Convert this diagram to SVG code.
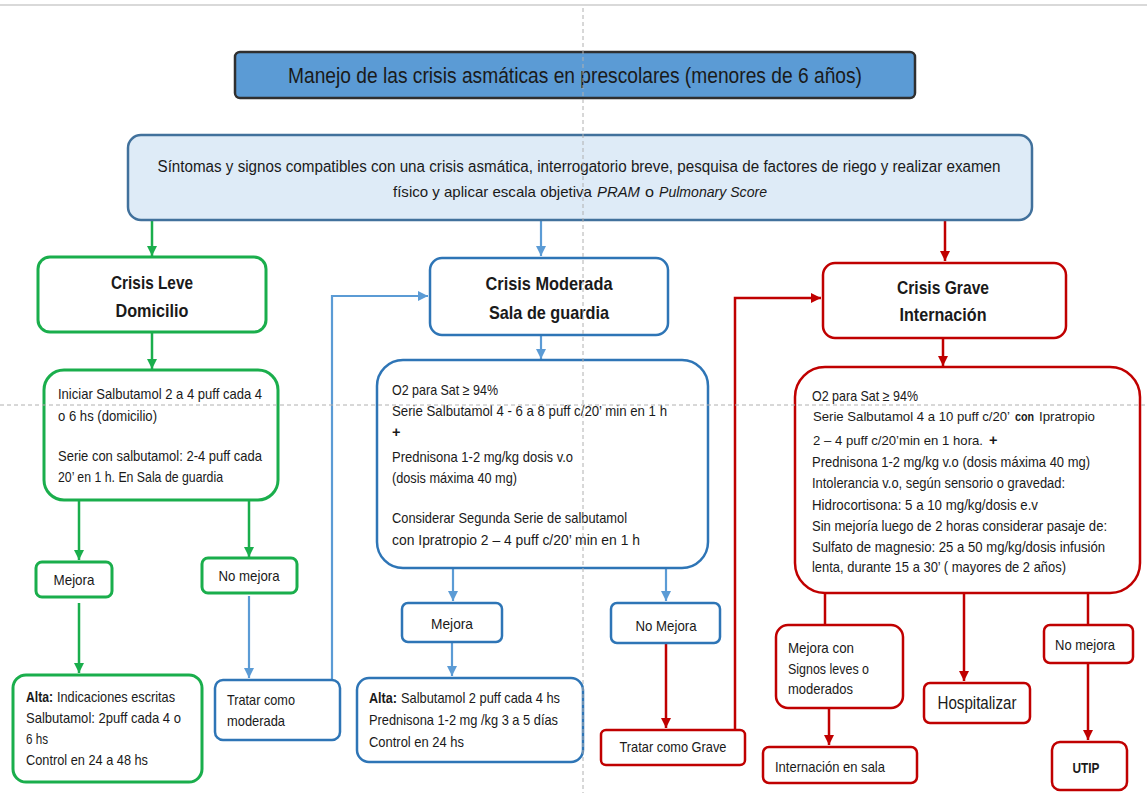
<svg xmlns="http://www.w3.org/2000/svg" width="1147" height="793" viewBox="0 0 1147 793">
<style>
text{font-family:"Liberation Sans",Arial,sans-serif;fill:#1a1a1a;}
.t{font-size:14.5px;}
.h{font-size:18.5px;font-weight:bold;}
.c{text-anchor:middle;}
.bo{font-weight:bold;}
.it{font-style:italic;}
.g{fill:#fff;stroke:#1aae4c;stroke-width:3;}
.b{fill:#fff;stroke:#2e75b6;stroke-width:2.5;}
.r{fill:#fff;stroke:#c00000;stroke-width:2.5;}
.lg{fill:none;stroke:#1aae4c;stroke-width:2.5;}
.lb{fill:none;stroke:#5b9bd5;stroke-width:2.2;}
.lr{fill:none;stroke:#c00000;stroke-width:2.5;}
.guide{fill:none;stroke:#b0b0b0;stroke-width:1;stroke-dasharray:4 3;}
</style>
<defs>
<marker id="ag" viewBox="0 0 10 10" refX="10" refY="5" markerWidth="10" markerHeight="10" markerUnits="userSpaceOnUse" orient="auto"><path d="M0,0 L10,5 L0,10 z" fill="#1aae4c"/></marker>
<marker id="ab" viewBox="0 0 10 10" refX="10" refY="5" markerWidth="10" markerHeight="10" markerUnits="userSpaceOnUse" orient="auto"><path d="M0,0 L10,5 L0,10 z" fill="#5b9bd5"/></marker>
<marker id="ar" viewBox="0 0 10 10" refX="10" refY="5" markerWidth="10" markerHeight="10" markerUnits="userSpaceOnUse" orient="auto"><path d="M0,0 L10,5 L0,10 z" fill="#c00000"/></marker>
</defs>
<rect width="1147" height="793" fill="#fff"/>

<g id="connectors">
<path class="lg" d="M152,221 V256" marker-end="url(#ag)"/>
<path class="lb" d="M541,221 V256" marker-end="url(#ab)"/>
<path class="lr" d="M945,221 V261" marker-end="url(#ar)"/>
<path class="lg" d="M152,333 V369" marker-end="url(#ag)"/>
<path class="lb" d="M541,336 V359" marker-end="url(#ab)"/>
<path class="lr" d="M943,339 V366" marker-end="url(#ar)"/>
<path class="lg" d="M79,501 V560" marker-end="url(#ag)"/>
<path class="lg" d="M249,501 V557" marker-end="url(#ag)"/>
<path class="lg" d="M79,603 V673" marker-end="url(#ag)"/>
<path class="lb" d="M249,596 V678" marker-end="url(#ab)"/>
<path class="lb" d="M332,680 V296 H428" marker-end="url(#ab)"/>
<path class="lb" d="M453,569 V601" marker-end="url(#ab)"/>
<path class="lb" d="M666,569 V601" marker-end="url(#ab)"/>
<path class="lb" d="M452,643 V676" marker-end="url(#ab)"/>
<path class="lr" d="M666,644 V728" marker-end="url(#ar)"/>
<path class="lr" d="M735,730 V298 H821" marker-end="url(#ar)"/>
<path class="lr" d="M825,594 V625"/>
<path class="lr" d="M829,709 V745" marker-end="url(#ar)"/>
<path class="lr" d="M964,594 V681" marker-end="url(#ar)"/>
<path class="lr" d="M1088,594 V625"/>
<path class="lr" d="M1088,664 V740" marker-end="url(#ar)"/>
</g>

<g id="title">
<rect x="235" y="52" width="680" height="46" rx="5" fill="#5b9bd5" stroke="#2f2f2f" stroke-width="2.5"/>
<text x="575" y="83" class="c" style="font-size:22px" textLength="574" lengthAdjust="spacingAndGlyphs">Manejo de las crisis asmáticas en prescolares (menores de 6 años)</text>
</g>

<g id="sintomas">
<rect x="128" y="135" width="904" height="85" rx="13" fill="#deebf7" stroke="#41719c" stroke-width="2.5"/>
<text x="579" y="172" class="c" style="font-size:16px" textLength="843" lengthAdjust="spacingAndGlyphs">Síntomas y signos compatibles con una crisis asmática, interrogatorio breve, pesquisa de factores de riego y realizar examen</text>
<text x="393" y="197" style="font-size:15px" textLength="199" lengthAdjust="spacingAndGlyphs">físico y aplicar escala objetiva</text>
<text x="597" y="197" class="it" style="font-size:15px" textLength="43" lengthAdjust="spacingAndGlyphs">PRAM</text>
<text x="645" y="197" style="font-size:15px" textLength="9" lengthAdjust="spacingAndGlyphs">o</text>
<text x="659" y="197" class="it" style="font-size:14px" textLength="108" lengthAdjust="spacingAndGlyphs">Pulmonary Score</text>
</g>

<g id="crisis-leve">
<rect class="g" x="38" y="257" width="228" height="75" rx="12"/>
<text x="152" y="289" class="h c" textLength="82" lengthAdjust="spacingAndGlyphs">Crisis Leve</text>
<text x="152" y="317" class="h c" textLength="73" lengthAdjust="spacingAndGlyphs">Domicilio</text>
</g>

<g id="leve-tratamiento">
<rect class="g" x="44" y="370" width="234" height="130" rx="20"/>
<text x="58" y="399" class="t" textLength="204" lengthAdjust="spacingAndGlyphs">Iniciar Salbutamol 2 a 4 puff cada 4</text>
<text x="58" y="421" class="t" textLength="99" lengthAdjust="spacingAndGlyphs">o 6 hs (domicilio)</text>
<text x="58" y="461" class="t" textLength="204" lengthAdjust="spacingAndGlyphs">Serie con salbutamol: 2-4 puff cada</text>
<text x="58" y="482" class="t" textLength="165" lengthAdjust="spacingAndGlyphs">20’ en 1 h. En Sala de guardia</text>
</g>

<g id="leve-mejora">
<rect class="g" x="36" y="562" width="76" height="35" rx="6"/>
<text x="74" y="585" class="t c" textLength="41" lengthAdjust="spacingAndGlyphs">Mejora</text>
</g>

<g id="leve-no-mejora">
<rect class="g" x="202" y="558" width="95" height="35" rx="6"/>
<text x="249" y="581" class="t c" textLength="61" lengthAdjust="spacingAndGlyphs">No mejora</text>
</g>

<g id="leve-alta">
<rect class="g" x="13" y="675" width="189" height="107" rx="13"/>
<text x="26" y="702" class="t bo" textLength="27" lengthAdjust="spacingAndGlyphs">Alta:</text>
<text x="57" y="702" class="t" textLength="118" lengthAdjust="spacingAndGlyphs">Indicaciones escritas</text>
<text x="26" y="723" class="t" textLength="155" lengthAdjust="spacingAndGlyphs">Salbutamol: 2puff cada 4 o</text>
<text x="26" y="744" class="t" textLength="22" lengthAdjust="spacingAndGlyphs">6 hs</text>
<text x="26" y="765" class="t" textLength="122" lengthAdjust="spacingAndGlyphs">Control en 24 a 48 hs</text>
</g>

<g id="tratar-moderada">
<rect class="b" x="215" y="680" width="125" height="60" rx="8"/>
<text x="227" y="705" class="t" textLength="68" lengthAdjust="spacingAndGlyphs">Tratar como</text>
<text x="227" y="726" class="t" textLength="58" lengthAdjust="spacingAndGlyphs">moderada</text>
</g>

<g id="crisis-moderada">
<rect class="b" x="430" y="258" width="238" height="77" rx="12"/>
<text x="549" y="290" class="h c" textLength="127" lengthAdjust="spacingAndGlyphs">Crisis Moderada</text>
<text x="549" y="319" class="h c" textLength="120" lengthAdjust="spacingAndGlyphs">Sala de guardia</text>
</g>

<g id="moderada-tratamiento">
<rect class="b" x="377" y="360" width="331" height="208" rx="26"/>
<text x="392" y="395" class="t" textLength="106" lengthAdjust="spacingAndGlyphs">O2 para Sat ≥ 94%</text>
<text x="392" y="416" class="t" textLength="275" lengthAdjust="spacingAndGlyphs">Serie Salbutamol 4 - 6 a 8 puff c/20’  min en 1 h</text>
<text x="392" y="437" class="t bo">+</text>
<text x="392" y="462" class="t" textLength="181" lengthAdjust="spacingAndGlyphs">Prednisona 1-2 mg/kg dosis v.o</text>
<text x="392" y="483" class="t" textLength="125" lengthAdjust="spacingAndGlyphs">(dosis máxima 40 mg)</text>
<text x="392" y="523" class="t" textLength="235" lengthAdjust="spacingAndGlyphs">Considerar Segunda Serie de salbutamol</text>
<text x="392" y="545" class="t" textLength="248" lengthAdjust="spacingAndGlyphs">con Ipratropio 2 – 4 puff c/20’ min en 1 h</text>
</g>

<g id="moderada-mejora">
<rect class="b" x="402" y="603" width="100" height="39" rx="6"/>
<text x="452" y="629" class="t c" textLength="42" lengthAdjust="spacingAndGlyphs">Mejora</text>
</g>

<g id="moderada-no-mejora">
<rect class="b" x="611" y="603" width="109" height="40" rx="6"/>
<text x="666" y="631" class="t c" textLength="61" lengthAdjust="spacingAndGlyphs">No Mejora</text>
</g>

<g id="moderada-alta">
<rect class="b" x="357" y="678" width="226" height="84" rx="12"/>
<text x="369" y="703" class="t bo" textLength="28" lengthAdjust="spacingAndGlyphs">Alta:</text>
<text x="401" y="703" class="t" textLength="159" lengthAdjust="spacingAndGlyphs">Salbutamol 2 puff cada 4 hs</text>
<text x="369" y="725" class="t" textLength="189" lengthAdjust="spacingAndGlyphs">Prednisona 1-2 mg /kg 3 a 5 días</text>
<text x="369" y="747" class="t" textLength="95" lengthAdjust="spacingAndGlyphs">Control en 24 hs</text>
</g>

<g id="tratar-grave">
<rect class="r" x="601" y="730" width="144" height="35" rx="5"/>
<text x="673" y="752" class="t c" textLength="107" lengthAdjust="spacingAndGlyphs">Tratar como Grave</text>
</g>

<g id="crisis-grave">
<rect class="r" x="823" y="263" width="243" height="75" rx="12"/>
<text x="943" y="294" class="h c" textLength="92" lengthAdjust="spacingAndGlyphs">Crisis Grave</text>
<text x="943" y="321" class="h c" textLength="87" lengthAdjust="spacingAndGlyphs">Internación</text>
</g>

<g id="grave-tratamiento">
<rect class="r" x="795" y="367" width="345" height="226" rx="30"/>
<text x="812" y="401" class="t" textLength="106" lengthAdjust="spacingAndGlyphs">O2 para Sat ≥ 94%</text>
<text x="813" y="421" style="font-size:13px" textLength="197" lengthAdjust="spacingAndGlyphs">Serie Salbutamol 4 a 10 puff c/20’</text>
<text x="1015" y="421" class="bo" style="font-size:12px" textLength="19" lengthAdjust="spacingAndGlyphs">con</text>
<text x="1039" y="421" style="font-size:13.5px" textLength="56" lengthAdjust="spacingAndGlyphs">Ipratropio</text>
<text x="813" y="445" style="font-size:13px" textLength="170" lengthAdjust="spacingAndGlyphs">2 – 4 puff c/20’min en 1 hora.</text>
<text x="989" y="445" class="t bo">+</text>
<text x="812" y="467" class="t" textLength="278" lengthAdjust="spacingAndGlyphs">Prednisona 1-2 mg/kg v.o (dosis máxima 40 mg)</text>
<text x="812" y="488" class="t" textLength="253" lengthAdjust="spacingAndGlyphs">Intolerancia v.o, según sensorio o gravedad:</text>
<text x="812" y="510" class="t" textLength="226" lengthAdjust="spacingAndGlyphs">Hidrocortisona: 5 a 10 mg/kg/dosis e.v</text>
<text x="812" y="531" class="t" textLength="295" lengthAdjust="spacingAndGlyphs">Sin mejoría luego de 2 horas  considerar pasaje de:</text>
<text x="812" y="552" class="t" textLength="293" lengthAdjust="spacingAndGlyphs">Sulfato de magnesio: 25 a 50 mg/kg/dosis infusión</text>
<text x="812" y="572" class="t" textLength="254" lengthAdjust="spacingAndGlyphs">lenta, durante 15 a 30’ ( mayores de 2 años)</text>
</g>

<g id="grave-mejora">
<rect class="r" x="776" y="625" width="127" height="83" rx="12"/>
<text x="788" y="653" class="t" textLength="66" lengthAdjust="spacingAndGlyphs">Mejora con</text>
<text x="788" y="674" class="t" textLength="81" lengthAdjust="spacingAndGlyphs">Signos leves o</text>
<text x="788" y="694" class="t" textLength="65" lengthAdjust="spacingAndGlyphs">moderados</text>
</g>

<g id="internacion-sala">
<rect class="r" x="763" y="747" width="154" height="36" rx="6"/>
<text x="775" y="772" class="t" textLength="110" lengthAdjust="spacingAndGlyphs">Internación en sala</text>
</g>

<g id="hospitalizar">
<rect class="r" x="924" y="683" width="106" height="40" rx="6"/>
<text x="977" y="709" class="c" style="font-size:17.5px" textLength="79" lengthAdjust="spacingAndGlyphs">Hospitalizar</text>
</g>

<g id="grave-no-mejora">
<rect class="r" x="1044" y="625" width="89" height="38" rx="6"/>
<text x="1085" y="650" class="t c" textLength="60" lengthAdjust="spacingAndGlyphs">No mejora</text>
</g>

<g id="utip">
<rect class="r" x="1052" y="742" width="75" height="48" rx="8"/>
<text x="1086" y="773" class="t c bo" textLength="27" lengthAdjust="spacingAndGlyphs">UTIP</text>
</g>

<line x1="0" y1="5" x2="1147" y2="5" stroke="#d9d9d9" stroke-width="2"/>
<line class="guide" x1="583" y1="8" x2="583" y2="793"/>
<line class="guide" x1="0" y1="405" x2="1147" y2="405"/>
</svg>
